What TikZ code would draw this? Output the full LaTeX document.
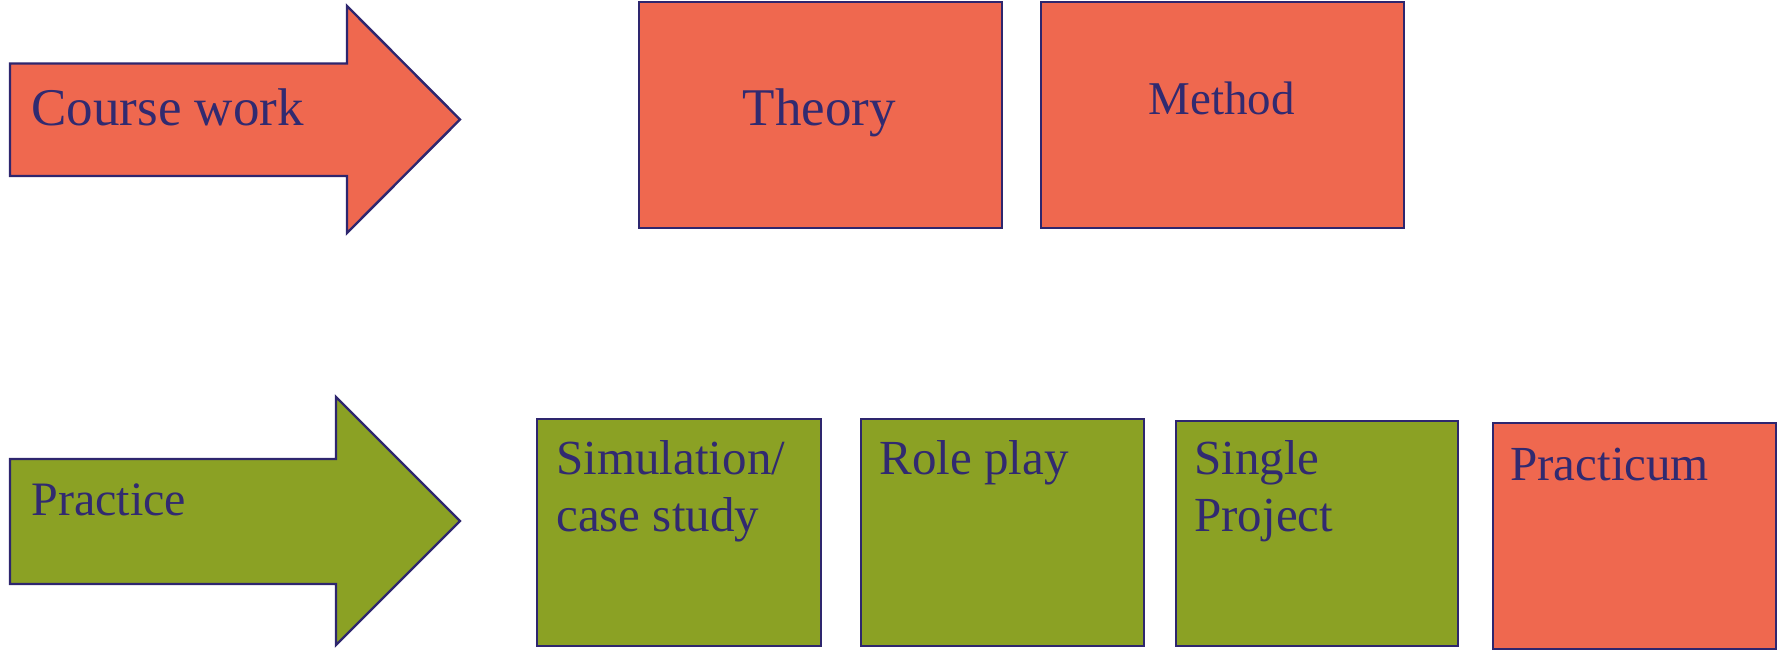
\documentclass[tikz,border=0pt]{standalone}
\usepackage{fontspec}
\setmainfont{Liberation Serif}
\definecolor{boxorange}{HTML}{EF684F}
\definecolor{boxgreen}{HTML}{8BA124}
\definecolor{edgenavy}{HTML}{2E266E}
\definecolor{textnavy}{HTML}{312A70}
\begin{document}
\begin{tikzpicture}[x=0.5pt,y=-0.5pt,
  outline/.style={draw=edgenavy,line width=1.2pt},
  box/.style={outline,rectangle,inner sep=0pt,anchor=north west},
  lbl/.style={text=textnavy,inner sep=0pt,anchor=base west,align=left,
    font=\fontsize{24.5}{28.5}\selectfont},
  biglbl/.style={lbl,font=\fontsize{26.5}{31}\selectfont}]
\useasboundingbox (0,0) rectangle (1778,649);
% arrows
\draw[outline,fill=boxorange] (10,63.5) -- (347,63.5) -- (347,6) -- (460,119.5)
  -- (347,233) -- (347,176) -- (10,176) -- cycle;
\node[biglbl] (coursework) at (31,125) {Course work};
\draw[outline,fill=boxgreen] (10,459) -- (336,459) -- (336,397) -- (460,521)
  -- (336,645) -- (336,584) -- (10,584) -- cycle;
\node[lbl,font=\fontsize{24}{28}\selectfont] (practice) at (31,515) {Practice};
% top boxes
\node[box,fill=boxorange,minimum width=181.5pt,minimum height=113pt] (theory) at (638,1) {};
\node[biglbl,anchor=base] (theorylbl) at (819.5,125) {Theory};
\node[box,fill=boxorange,minimum width=181.5pt,minimum height=113pt] (method) at (1040,1) {};
\node[lbl,anchor=base,font=\fontsize{23.5}{28}\selectfont] (methodlbl) at (1221.5,114.5) {Method};
% bottom boxes
\node[box,fill=boxgreen,minimum width=142pt,minimum height=113.5pt] (sim) at (536,418) {};
\node[lbl] (simlbl) at (556,531) {Simulation/\\case study};
\node[box,fill=boxgreen,minimum width=141.5pt,minimum height=113.5pt] (role) at (860,418) {};
\node[lbl] (rolelbl) at (879,474) {Role play};
\node[box,fill=boxgreen,minimum width=141pt,minimum height=112.5pt] (single) at (1175,420) {};
\node[lbl] (singlelbl) at (1194,531) {Single\\Project};
\node[box,fill=boxorange,minimum width=141.5pt,minimum height=113pt] (practicum) at (1492,422) {};
\node[lbl] (practicumlbl) at (1510,480) {Practicum};
\end{tikzpicture}
\end{document}
